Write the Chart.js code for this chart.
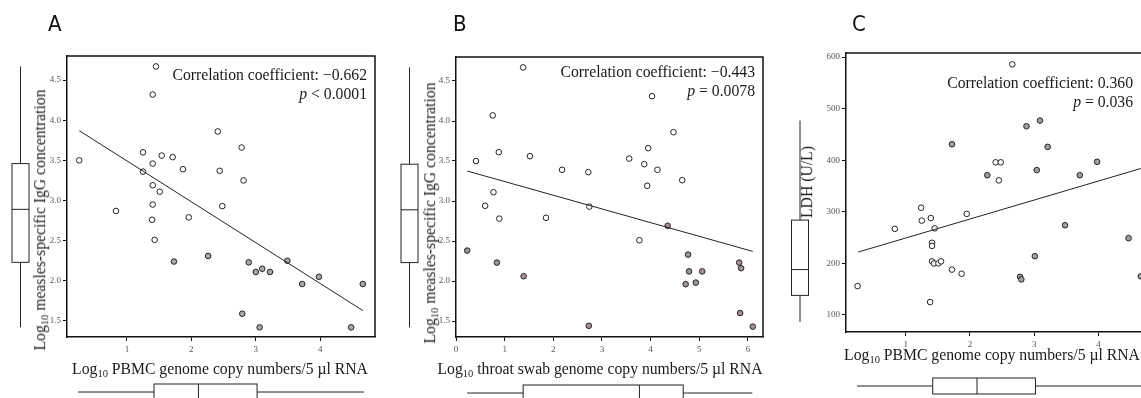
<!DOCTYPE html>
<html>
<head>
<meta charset="utf-8">
<script src="https://cdn.jsdelivr.net/npm/chart.js@4.4.0/dist/chart.umd.min.js"></script>
<style>
    html, body { margin: 0; padding: 0; background: #fff; overflow: hidden; }
    #lienzo { position: relative; width: 1141px; height: 398px; overflow: hidden; }
    canvas { position: absolute; top: 0; }
    .txt { position: absolute; font-family: 'Liberation Serif', 'Times New Roman', serif; font-size: 15.7px; color: #1a1a1a; white-space: nowrap; line-height: 1; }
    .centro { transform: translate(-50%, -50%); }
    .vertical { transform: translate(-50%, -50%) rotate(-90deg); }
    .txt sub { font-size: 10.5px; vertical-align: -3px; line-height: 0; }
    .corr { transform: translateX(-100%); text-align: right; line-height: 19px; }
    .letra { position: absolute; top: 13px; font-family: 'Liberation Sans Narrow', 'DejaVu Sans Condensed', sans-serif; font-size: 22px; line-height: 1; color: #111; }
</style>
</head>
<body>
<div id="lienzo">
    <canvas id="graficoA" width="380" height="410" style="left:0px"></canvas>
    <canvas id="graficoB" width="390" height="410" style="left:380px"></canvas>
    <canvas id="graficoC" width="400" height="410" style="left:760px"></canvas>

    <div class="letra" style="left:48px">A</div>
    <div class="letra" style="left:453px">B</div>
    <div class="letra" style="left:852px">C</div>

    <div class="txt vertical" style="left:40px; top:220px">Log<sub>10</sub> measles-specific IgG concentration</div>
    <div class="txt vertical" style="left:430px; top:213px">Log<sub>10</sub> measles-specific IgG concentration</div>
    <div class="txt vertical" style="left:807px; top:182px">LDH (U/L)</div>

    <div class="txt centro" style="left:220px; top:369px">Log<sub>10</sub> PBMC genome copy numbers/5 µl RNA</div>
    <div class="txt centro" style="left:600px; top:369px">Log<sub>10</sub> throat swab genome copy numbers/5 µl RNA</div>
    <div class="txt centro" style="left:992px; top:355px">Log<sub>10</sub> PBMC genome copy numbers/5 µl RNA</div>

    <div class="txt corr" style="left:367px; top:65px">Correlation coefficient: −0.662<br><i>p</i> &lt; 0.0001</div>
    <div class="txt corr" style="left:755px; top:62px">Correlation coefficient: −0.443<br><i>p</i> = 0.0078</div>
    <div class="txt corr" style="left:1133px; top:73px">Correlation coefficient: 0.360<br><i>p</i> = 0.036</div>
</div>

<script>
// Panel A: PBMC vs IgG
const aAbiertosX = [0.26, 0.83, 1.25, 1.25, 1.40, 1.40, 1.40, 1.39, 1.43, 1.45, 1.40, 1.51, 1.54, 1.71, 1.87, 1.96, 2.41, 2.44, 2.48, 2.78, 2.81];
const aAbiertosY = [3.50, 2.87, 3.60, 3.36, 3.46, 3.19, 2.95, 2.76, 2.51, 4.67, 4.32, 3.11, 3.56, 3.54, 3.39, 2.79, 3.86, 3.37, 2.93, 3.66, 3.25];
const aRellenosX = [1.73, 2.26, 2.79, 2.89, 3.00, 3.06, 3.10, 3.22, 3.49, 3.72, 3.98, 4.48, 4.66];
const aRellenosY = [2.24, 2.31, 1.59, 2.23, 2.11, 1.42, 2.15, 2.11, 2.25, 1.96, 2.05, 1.42, 1.96];
const aRectaX = [0.26, 4.66];
const aRectaY = [3.87, 1.63];

// Panel B: garganta vs IgG
const bAbiertosX = [0.41, 0.60, 0.755, 0.77, 0.88, 0.89, 1.38, 1.52, 1.85, 2.18, 2.72, 2.74, 3.56, 3.77, 3.87, 3.93, 3.95, 4.03, 4.14, 4.47, 4.65];
const bAbiertosY = [3.50, 2.94, 4.07, 3.11, 3.61, 2.78, 4.67, 3.56, 2.79, 3.39, 3.36, 2.93, 3.53, 2.51, 3.46, 3.19, 3.66, 4.31, 3.39, 3.86, 3.26];
const bRellenosX = [0.23, 0.84, 1.39, 2.73, 4.35, 4.72, 4.77, 4.79, 4.93, 5.06, 5.82, 5.84, 5.86, 6.10];
const bRellenosY = [2.38, 2.23, 2.06, 1.44, 2.69, 1.96, 2.33, 2.12, 1.98, 2.12, 2.23, 1.60, 2.16, 1.43];
const bRectaX = [0.23, 6.10];
const bRectaY = [3.375, 2.37];

// Panel C: PBMC vs LDH
const cAbiertosX = [0.25, 0.83, 1.24, 1.25, 1.38, 1.39, 1.41, 1.41, 1.41, 1.44, 1.45, 1.51, 1.55, 1.72, 1.87, 1.95, 2.40, 2.45, 2.48, 2.66];
const cAbiertosY = [156, 267, 308, 283, 125, 288, 240, 234, 204, 200, 268, 200, 204, 188, 180, 296, 396, 361, 396, 586];
const cRellenosX = [1.72, 2.27, 2.78, 2.80, 2.88, 3.01, 3.04, 3.09, 3.21, 3.48, 3.71, 3.98, 4.47, 4.66];
const cRellenosY = [431, 371, 174, 169, 466, 214, 381, 477, 426, 274, 371, 397, 249, 175];
const cRectaX = [0.26, 4.66];
const cRectaY = [222, 384];

// cajas: [min, q1, mediana, q3, max]
const cajaIgG = [1.42, 2.23, 2.89, 3.46, 4.67];
const cajaPBMC = [0.24, 1.42, 2.11, 3.02, 4.68];
const cajaGarganta = [0.23, 1.38, 3.77, 4.67, 6.09];
const cajaLDH = [86, 138, 188, 284, 477];

const ticksIgG = [1.5, 2.0, 2.5, 3.0, 3.5, 4.0, 4.5];
const ticksLDH = [100, 200, 300, 400, 500, 600];
const ticksPBMC = [1, 2, 3, 4];
const ticksGarganta = [0, 1, 2, 3, 4, 5, 6];

function puntos(xs, ys) {
    return xs.map((x, i) => ({ x: x, y: ys[i] }));
}

// marco superior/derecho y diagramas de caja en los margenes
const marcoYCajas = {
    id: 'marcoYCajas',
    afterDraw(chart, args, opts) {
        const { ctx, chartArea, scales } = chart;
        ctx.save();
        ctx.strokeStyle = '#111';
        ctx.lineWidth = 1.5;
        ctx.beginPath();
        ctx.moveTo(chartArea.left, chartArea.top);
        ctx.lineTo(chartArea.right, chartArea.top);
        ctx.lineTo(chartArea.right, chartArea.bottom);
        ctx.stroke();

        ctx.lineWidth = 1;
        ctx.strokeStyle = '#222';
        ctx.fillStyle = '#fff';

        // caja vertical (eje y)
        const cy = opts.cajaY;
        const cx = chartArea.left - opts.despY;
        const py = cy.map(v => scales.y.getPixelForValue(v));
        ctx.beginPath();
        ctx.moveTo(cx, py[0]);
        ctx.lineTo(cx, py[4]);
        ctx.stroke();
        ctx.fillRect(cx - 8.5, py[3], 17, py[1] - py[3]);
        ctx.strokeRect(cx - 8.5, py[3], 17, py[1] - py[3]);
        ctx.beginPath();
        ctx.moveTo(cx - 8.5, py[2]);
        ctx.lineTo(cx + 8.5, py[2]);
        ctx.stroke();

        // caja horizontal (eje x)
        const cxv = opts.cajaX;
        const hy = chartArea.bottom + opts.despX;
        const px = cxv.map(v => scales.x.getPixelForValue(v));
        ctx.beginPath();
        ctx.moveTo(px[0], hy);
        ctx.lineTo(px[4], hy);
        ctx.stroke();
        ctx.fillRect(px[1], hy - 8, px[3] - px[1], 16);
        ctx.strokeRect(px[1], hy - 8, px[3] - px[1], 16);
        ctx.beginPath();
        ctx.moveTo(px[2], hy - 8);
        ctx.lineTo(px[2], hy + 8);
        ctx.stroke();
        ctx.restore();
    }
};

function crearPanel(id, p) {
    const fuenteTicks = { family: "'Liberation Serif', 'Times New Roman', serif", size: 9 };
    return new Chart(document.getElementById(id), {
        type: 'scatter',
        data: {
            datasets: [
                {
                    data: puntos(p.rectaX, p.rectaY),
                    showLine: true,
                    borderColor: '#222',
                    borderWidth: 1,
                    pointRadius: 0
                },
                {
                    data: puntos(p.abiertosX, p.abiertosY),
                    pointRadius: 2.8,
                    pointBorderWidth: 1,
                    borderColor: '#222',
                    backgroundColor: '#fff'
                },
                {
                    data: puntos(p.rellenosX, p.rellenosY),
                    pointRadius: 2.8,
                    pointBorderWidth: 1,
                    borderColor: '#222',
                    backgroundColor: p.relleno
                }
            ]
        },
        options: {
            responsive: false,
            animation: false,
            layout: { padding: p.padding },
            scales: {
                x: {
                    type: 'linear',
                    min: p.xMin,
                    max: p.xMax,
                    afterBuildTicks: s => { s.ticks = p.ticksX.map(v => ({ value: v })); },
                    afterFit: s => { s.height = 25; },
                    ticks: { font: fuenteTicks, color: '#555', padding: 3, maxRotation: 0, callback: v => String(v) },
                    grid: { drawOnChartArea: false, tickLength: 4, color: '#111' },
                    border: { color: '#111', width: 1.5 }
                },
                y: {
                    type: 'linear',
                    min: p.yMin,
                    max: p.yMax,
                    afterBuildTicks: s => { s.ticks = p.ticksY.map(v => ({ value: v })); },
                    afterFit: s => { s.width = 30; },
                    ticks: { font: fuenteTicks, color: '#555', padding: 2, callback: p.formatoY },
                    grid: { drawOnChartArea: false, tickLength: 4, color: '#111' },
                    border: { color: '#111', width: 1.5 }
                }
            },
            plugins: {
                legend: { display: false },
                tooltip: { enabled: false },
                marcoYCajas: { cajaY: p.cajaY, cajaX: p.cajaX, despY: p.despY, despX: p.despX }
            }
        },
        plugins: [marcoYCajas]
    });
}

crearPanel('graficoA', {
    abiertosX: aAbiertosX, abiertosY: aAbiertosY,
    rellenosX: aRellenosX, rellenosY: aRellenosY,
    rectaX: aRectaX, rectaY: aRectaY,
    relleno: '#a8a8a8',
    xMin: 0.07, xMax: 4.85, yMin: 1.3, yMax: 4.8,
    ticksX: ticksPBMC, ticksY: ticksIgG,
    formatoY: v => v.toFixed(1),
    cajaY: cajaIgG, cajaX: cajaPBMC, despY: 46.5, despX: 55,
    padding: { left: 37, right: 4, top: 56, bottom: 48 }
});

crearPanel('graficoB', {
    abiertosX: bAbiertosX, abiertosY: bAbiertosY,
    rellenosX: bRellenosX, rellenosY: bRellenosY,
    rectaX: bRectaX, rectaY: bRectaY,
    relleno: '#a39494',
    xMin: 0, xMax: 6.31, yMin: 1.3, yMax: 4.8,
    ticksX: ticksGarganta, ticksY: ticksIgG,
    formatoY: v => v.toFixed(1),
    cajaY: cajaIgG, cajaX: cajaGarganta, despY: 46.5, despX: 56,
    padding: { left: 46, right: 7, top: 57, bottom: 48 }
});

crearPanel('graficoC', {
    abiertosX: cAbiertosX, abiertosY: cAbiertosY,
    rellenosX: cRellenosX, rellenosY: cRellenosY,
    rectaX: cRectaX, rectaY: cRectaY,
    relleno: '#a0a0a0',
    xMin: 0.07, xMax: 4.85, yMin: 67, yMax: 608,
    ticksX: ticksPBMC, ticksY: ticksLDH,
    formatoY: v => String(v),
    cajaY: cajaLDH, cajaX: cajaPBMC, despY: 46, despX: 54,
    padding: { left: 56, right: 7, top: 53, bottom: 53 }
});
</script>
</body>
</html>
